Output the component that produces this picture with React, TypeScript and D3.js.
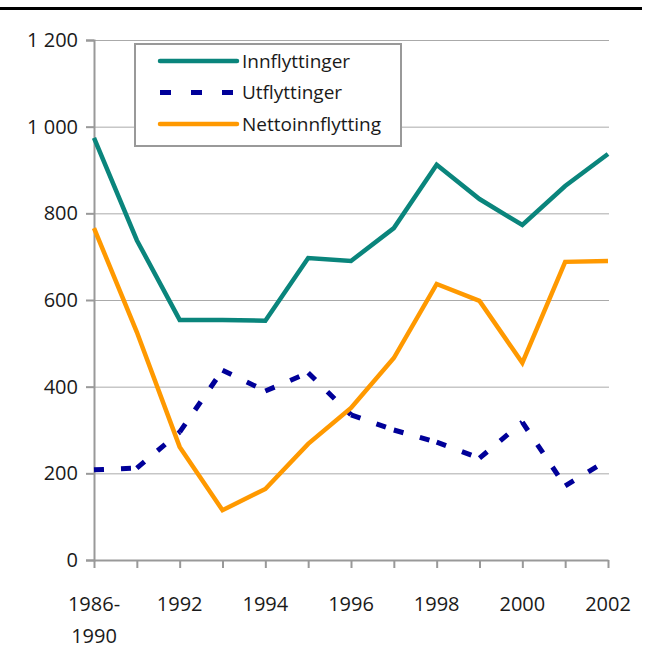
import React, { useEffect, useRef } from "react";
import * as d3 from "d3";

const categories = ["1986-1990", "1991", "1992", "1993", "1994", "1995", "1996", "1997", "1998", "1999", "2000", "2001", "2002"];
const tickLabels = ["1986-\n1990", "", "1992", "", "1994", "", "1996", "", "1998", "", "2000", "", "2002"];
const innflyttinger = [974, 738, 554, 554, 552, 697, 690, 766, 912, 833, 773, 863, 937];
const utflyttinger = [208, 212, 295, 438, 390, 432, 335, 300, 272, 235, 318, 171, 231];
const netto = [766, 526, 261, 115, 164, 268, 351, 466, 637, 598, 455, 688, 690];
const yTicks = [0, 200, 400, 600, 800, 1000, 1200];

const FONT = "'Open Sans', sans-serif";

const App = () => {
    const ref = useRef<SVGSVGElement>(null);

    useEffect(() => {
        const svg = d3.select(ref.current);
        svg.selectAll("*").remove();

        const left = 94;
        const right = 608;
        const top = 40;
        const bottom = 560;

        const x = d3.scalePoint().domain(categories).range([left, right]);
        const y = d3.scaleLinear().domain([0, 1200]).range([bottom, top]);

        // black rule on top
        svg.append("line")
            .attr("x1", 0).attr("x2", 642)
            .attr("y1", 8.5).attr("y2", 8.5)
            .attr("stroke", "#000").attr("stroke-width", 3);

        // gridlines
        svg.append("g")
            .selectAll("line")
            .data(yTicks.filter(t => t > 0))
            .enter()
            .append("line")
            .attr("x1", left).attr("x2", right + 1)
            .attr("y1", d => y(d) + 0.5).attr("y2", d => y(d) + 0.5)
            .attr("stroke", "#aaaaaa").attr("stroke-width", 1);

        // y axis
        const yAxis = svg.append("g")
            .attr("transform", `translate(${left},0)`)
            .call(d3.axisLeft(y).tickValues(yTicks).tickSize(8).tickPadding(8)
                .tickFormat(d => d3.format(",")(d as number).replace(",", " ")));
        yAxis.select(".domain").attr("stroke", "#999").attr("stroke-width", 2);
        yAxis.selectAll(".tick line").attr("stroke", "#999").attr("stroke-width", 2);
        yAxis.selectAll("text").attr("font-family", FONT).attr("font-size", 20).attr("fill", "#1a1a1a");

        // x axis
        const xAxis = svg.append("g")
            .attr("transform", `translate(0,${bottom})`)
            .call(d3.axisBottom(x).tickSize(8).tickSizeOuter(0).tickFormat(() => ""));
        xAxis.select(".domain").attr("stroke", "#999").attr("stroke-width", 2);
        xAxis.selectAll(".tick line").attr("stroke", "#999").attr("stroke-width", 2);

        const xl = svg.append("g");
        categories.forEach((c, i) => {
            const lines = tickLabels[i].split("\n");
            if (!lines[0]) return;
            const t = xl.append("text")
                .attr("x", x(c)!)
                .attr("y", 604)
                .attr("text-anchor", "middle")
                .attr("font-family", FONT)
                .attr("font-size", 20)
                .attr("fill", "#1a1a1a");
            lines.forEach((ln, j) => {
                t.append("tspan").attr("x", x(c)!).attr("dy", j === 0 ? "0.35em" : "1.6em").text(ln);
            });
        });

        const series = [
            { name: "Innflyttinger", values: innflyttinger, color: "#0a857c", dash: null },
            { name: "Utflyttinger", values: utflyttinger, color: "#000099", dash: "10,17" },
            { name: "Nettoinnflytting", values: netto, color: "#ff9900", dash: null }
        ];

        const line = d3.line<number>()
            .x((d, i) => x(categories[i])!)
            .y(d => y(d));

        series.forEach(s => {
            if (s.dash) {
                // dash pattern restarts at each vertex
                for (let i = 0; i < s.values.length - 1; i++) {
                    svg.append("line")
                        .attr("x1", x(categories[i])!).attr("y1", y(s.values[i]))
                        .attr("x2", x(categories[i + 1])!).attr("y2", y(s.values[i + 1]))
                        .attr("stroke", s.color)
                        .attr("stroke-width", 5)
                        .attr("stroke-dasharray", s.dash);
                }
            } else {
                svg.append("path")
                    .datum(s.values)
                    .attr("d", line)
                    .attr("fill", "none")
                    .attr("stroke", s.color)
                    .attr("stroke-width", 4.5)
                    .attr("stroke-linejoin", "miter");
            }
        });

        // legend
        const lg = svg.append("g");
        lg.append("rect")
            .attr("x", 135).attr("y", 44)
            .attr("width", 266).attr("height", 102)
            .attr("fill", "#fff")
            .attr("stroke", "#999").attr("stroke-width", 2);
        series.forEach((s, i) => {
            const ly = 61 + i * 31.5;
            lg.append("line")
                .attr("x1", 160).attr("x2", 237)
                .attr("y1", ly).attr("y2", ly)
                .attr("stroke", s.color)
                .attr("stroke-width", s.dash ? 5 : 4.5)
                .attr("stroke-linecap", s.dash ? "butt" : "round")
                .attr("stroke-dasharray", s.dash ? "11,20" : null);
            lg.append("text")
                .attr("x", 242).attr("y", ly)
                .attr("dy", "0.35em")
                .attr("font-family", FONT)
                .attr("font-size", 19)
                .attr("fill", "#1a1a1a")
                .text(s.name);
        });
    }, []);

    return (
        <svg ref={ref} width={652} height={650}
            style={{ position: "absolute", left: 0, top: 0, background: "#fff" }} />
    );
};

export default App;
